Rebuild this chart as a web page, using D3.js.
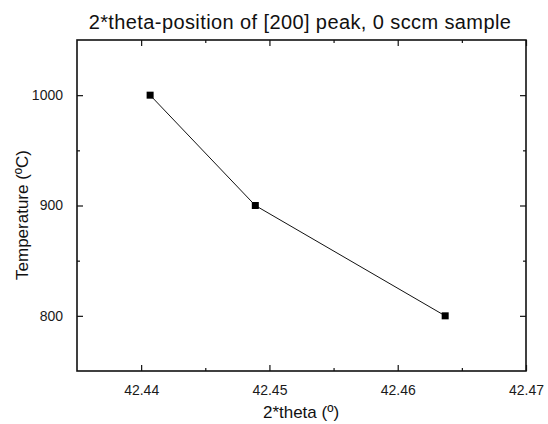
<!DOCTYPE html>
<html>
<head>
<meta charset="utf-8">
<script src="https://cdn.jsdelivr.net/npm/d3@7"></script>
<style>
  html, body { margin: 0; padding: 0; background: #fff; }
  svg { display: block; font-family: "Liberation Sans", Arial, sans-serif; }
</style>
</head>
<body>
<svg id="chart" width="548" height="424"></svg>
<script>
// Peak position (2*theta) against annealing temperature
const twoTheta = [42.4407, 42.4489, 42.4637];
const temperature = [1000, 900, 800];

const xMajorTicks = [42.44, 42.45, 42.46, 42.47];
const xMinorTicks = [42.445, 42.455, 42.465];
const yMajorTicks = [800, 900, 1000];
const yMinorTicks = [850, 950];

const titleText = "2*theta-position of [200] peak, 0 sccm sample";
const xLabel = "2*theta (\u00BA)";
const yLabel = "Temperature (\u00BAC)";

const svg = d3.select("#chart");
const m = { left: 77, right: 526, top: 40, bottom: 371 };

const x = d3.scaleLinear().domain([42.435, 42.47]).range([m.left, m.right]);
const y = d3.scaleLinear().domain([750, 1050]).range([m.bottom, m.top]);

const ink = "#111";
const fmt = d3.format(".2f");

// Bottom axis: inward ticks, labelled
svg.append("g").attr("transform", `translate(0,${m.bottom})`)
  .call(d3.axisBottom(x).tickValues(xMajorTicks).tickSize(-6).tickPadding(14).tickFormat(fmt));
svg.append("g").attr("transform", `translate(0,${m.bottom})`)
  .call(d3.axisBottom(x).tickValues(xMinorTicks).tickSize(-3).tickFormat(""));
// Top axis: inward ticks, unlabelled
svg.append("g").attr("transform", `translate(0,${m.top})`)
  .call(d3.axisTop(x).tickValues(xMajorTicks).tickSize(-6).tickFormat(""));
svg.append("g").attr("transform", `translate(0,${m.top})`)
  .call(d3.axisTop(x).tickValues(xMinorTicks).tickSize(-3).tickFormat(""));
// Left axis: inward ticks, labelled
svg.append("g").attr("transform", `translate(${m.left},0)`)
  .call(d3.axisLeft(y).tickValues(yMajorTicks).tickSize(-6).tickPadding(14).tickFormat(d3.format("d")));
svg.append("g").attr("transform", `translate(${m.left},0)`)
  .call(d3.axisLeft(y).tickValues(yMinorTicks).tickSize(-3).tickFormat(""));
// Right axis: inward ticks, unlabelled
svg.append("g").attr("transform", `translate(${m.right},0)`)
  .call(d3.axisRight(y).tickValues(yMajorTicks).tickSize(-6).tickFormat(""));
svg.append("g").attr("transform", `translate(${m.right},0)`)
  .call(d3.axisRight(y).tickValues(yMinorTicks).tickSize(-3).tickFormat(""));

svg.selectAll(".domain").remove();
svg.selectAll(".tick line").attr("stroke", ink).attr("stroke-width", 1.2);
svg.selectAll(".tick text")
  .attr("fill", "#1a1a1a")
  .style("font-family", '"Liberation Sans", Arial, sans-serif')
  .style("font-size", "14px");

// Frame
svg.append("rect")
  .attr("x", m.left).attr("y", m.top)
  .attr("width", m.right - m.left).attr("height", m.bottom - m.top)
  .attr("fill", "none").attr("stroke", ink).attr("stroke-width", 1.6);

// Data line and square markers
const pts = twoTheta.map((t, i) => ({ t, T: temperature[i] }));
svg.append("path")
  .datum(pts)
  .attr("fill", "none").attr("stroke", ink).attr("stroke-width", 1)
  .attr("d", d3.line().x(d => x(d.t)).y(d => y(d.T)));
svg.selectAll("rect.pt").data(pts).enter().append("rect")
  .attr("class", "pt")
  .attr("x", d => x(d.t) - 3.5).attr("y", d => y(d.T) - 3.5)
  .attr("width", 7).attr("height", 7)
  .attr("fill", "#000");

// Title and axis titles
svg.append("text")
  .attr("x", 300).attr("y", 29)
  .attr("text-anchor", "middle")
  .style("font-size", "20px").style("letter-spacing", "0.4px")
  .attr("fill", "#111")
  .text(titleText);
svg.append("text")
  .attr("x", 301).attr("y", 418)
  .attr("text-anchor", "middle")
  .style("font-size", "17px")
  .attr("fill", "#111")
  .text(xLabel);
svg.append("text")
  .attr("transform", "translate(28,215) rotate(-90)")
  .attr("text-anchor", "middle")
  .style("font-size", "17px")
  .attr("fill", "#111")
  .text(yLabel);
</script>
</body>
</html>
